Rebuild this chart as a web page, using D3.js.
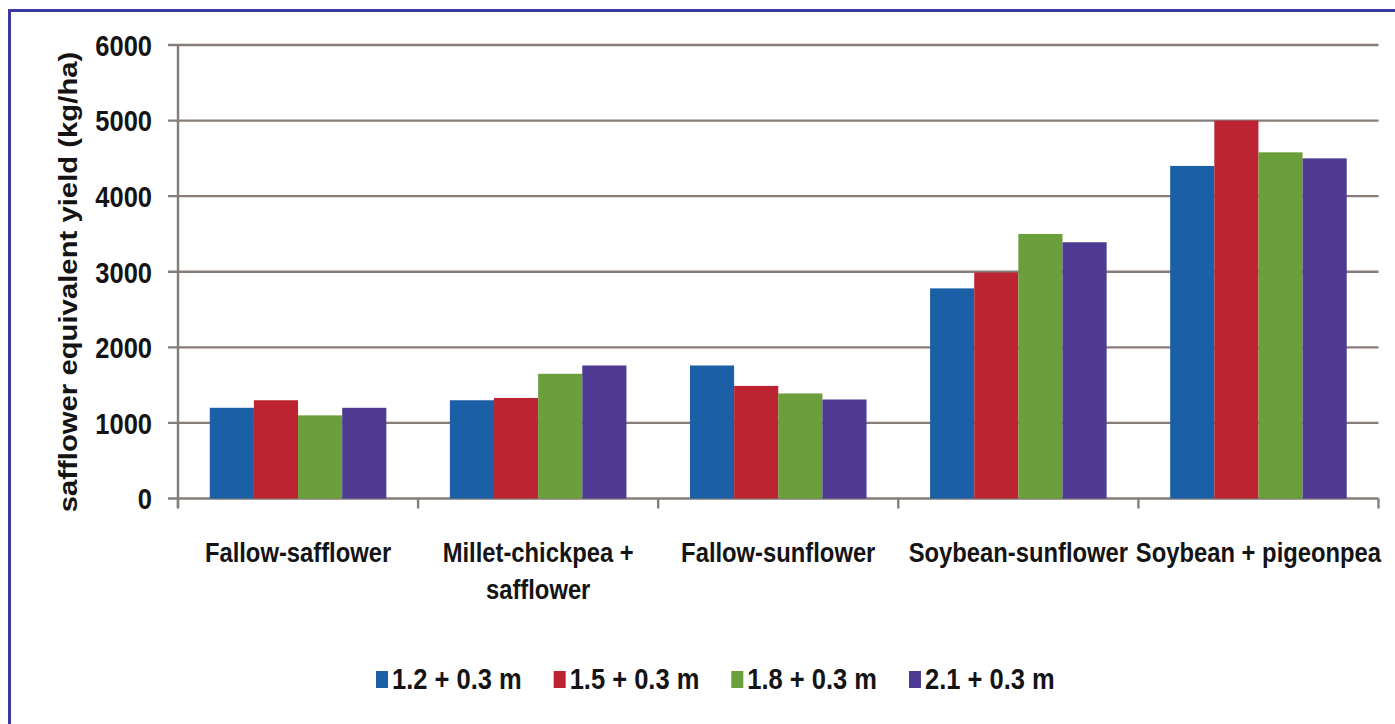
<!DOCTYPE html>
<html>
<head>
<meta charset="utf-8">
<script src="https://cdn.jsdelivr.net/npm/d3@7"></script>
<style>
  html, body { margin: 0; padding: 0; background: #ffffff; }
  svg { display: block; }
  text { font-family: "Liberation Sans", Arial, sans-serif; font-weight: bold; fill: #141414; }
</style>
</head>
<body>
<svg id="chart" width="1395" height="724"></svg>
<script>
const categories = [["Fallow-safflower"], ["Millet-chickpea +", "safflower"], ["Fallow-sunflower"], ["Soybean-sunflower"], ["Soybean + pigeonpea"]];
const seriesNames = ["1.2 + 0.3 m", "1.5 + 0.3 m", "1.8 + 0.3 m", "2.1 + 0.3 m"];
const seriesColors = ["#1b5fa6", "#bd2431", "#6a9f3b", "#4f3a93"];
const s12 = [1200, 1300, 1760, 2780, 4400];
const s15 = [1300, 1330, 1490, 2990, 5000];
const s18 = [1100, 1650, 1390, 3500, 4580];
const s21 = [1200, 1760, 1310, 3390, 4500];
const yTicks = [0, 1000, 2000, 3000, 4000, 5000, 6000];
const yTitle = "safflower equivalent yield (kg/ha)";

const series = [s12, s15, s18, s21];
const SQ = 0.85; // horizontal condensing of the lettering

const svg = d3.select("#chart");

// frame (top and left edges visible)
svg.append("path")
  .attr("d", "M9.5,730 L9.5,10.5 L1400,10.5")
  .attr("fill", "none").attr("stroke", "#3a3aa2").attr("stroke-width", 3);

const pL = 178, pR = 1378.5, pT = 45, pB = 498.5;
const catKeys = categories.map((c, i) => i);
const x0 = d3.scaleBand().domain(catKeys).range([pL, pR]).paddingInner(0).paddingOuter(0);
const x1 = d3.scaleBand().domain(d3.range(seriesNames.length)).range([0, x0.bandwidth()]).paddingInner(0).paddingOuter(0.72);
const y = d3.scaleLinear().domain([0, 6000]).range([pB, pT]);

const gridColor = "#877d78";

// gridlines with tick stubs
svg.append("g").selectAll("line").data(yTicks).join("line")
  .attr("x1", pL - 10).attr("x2", pR)
  .attr("y1", d => y(d)).attr("y2", d => y(d))
  .attr("stroke", gridColor).attr("stroke-width", 2.4);

// y axis line
svg.append("line").attr("x1", pL).attr("x2", pL).attr("y1", pT).attr("y2", pB + 9)
  .attr("stroke", gridColor).attr("stroke-width", 2.4);

// x category boundary ticks
svg.append("g").selectAll("line").data(d3.range(categories.length + 1)).join("line")
  .attr("x1", i => i < categories.length ? x0(i) : pR)
  .attr("x2", i => i < categories.length ? x0(i) : pR)
  .attr("y1", pB).attr("y2", pB + 10)
  .attr("stroke", gridColor).attr("stroke-width", 2.4);

// bars
const gBars = svg.append("g");
series.forEach((vals, si) => {
  gBars.append("g").selectAll("rect").data(vals).join("rect")
    .attr("x", (d, ci) => x0(ci) + x1(si))
    .attr("width", x1.bandwidth())
    .attr("y", d => y(d))
    .attr("height", d => pB - y(d))
    .attr("fill", seriesColors[si]);
});

// y tick labels
svg.append("g").selectAll("g").data(yTicks).join("g")
  .attr("transform", d => `translate(152,${y(d)}) scale(${SQ},1)`)
  .append("text")
  .attr("text-anchor", "end").attr("dy", "0.36em")
  .style("font-size", "30px")
  .text(d => d);

// y title
svg.append("g")
  .attr("transform", `translate(68,282) scale(${SQ},1) rotate(-90)`)
  .append("text")
  .attr("text-anchor", "middle").attr("dy", "0.36em")
  .style("font-size", "29.3px")
  .text(yTitle);

// category labels
const catG = svg.append("g").selectAll("g").data(categories).join("g")
  .attr("transform", (d, i) => `translate(${x0(i) + x0.bandwidth() / 2},562) scale(${SQ},1)`);
catG.each(function(lines) {
  d3.select(this).selectAll("text").data(lines).join("text")
    .attr("text-anchor", "middle")
    .attr("y", (d, j) => j * 37)
    .style("font-size", "28px")
    .text(d => d);
});

// legend
const legend = svg.append("g");
let lx = 376;
seriesNames.forEach((name, i) => {
  legend.append("rect").attr("x", lx).attr("y", 671).attr("width", 12).attr("height", 17)
    .attr("fill", seriesColors[i]);
  const tg = legend.append("g").attr("transform", `translate(${lx + 16},689) scale(${SQ},1)`);
  const t = tg.append("text").style("font-size", "30px").text(name);
  const w = t.node().getComputedTextLength() * SQ;
  lx += 16 + w + 32;
});
</script>
</body>
</html>
